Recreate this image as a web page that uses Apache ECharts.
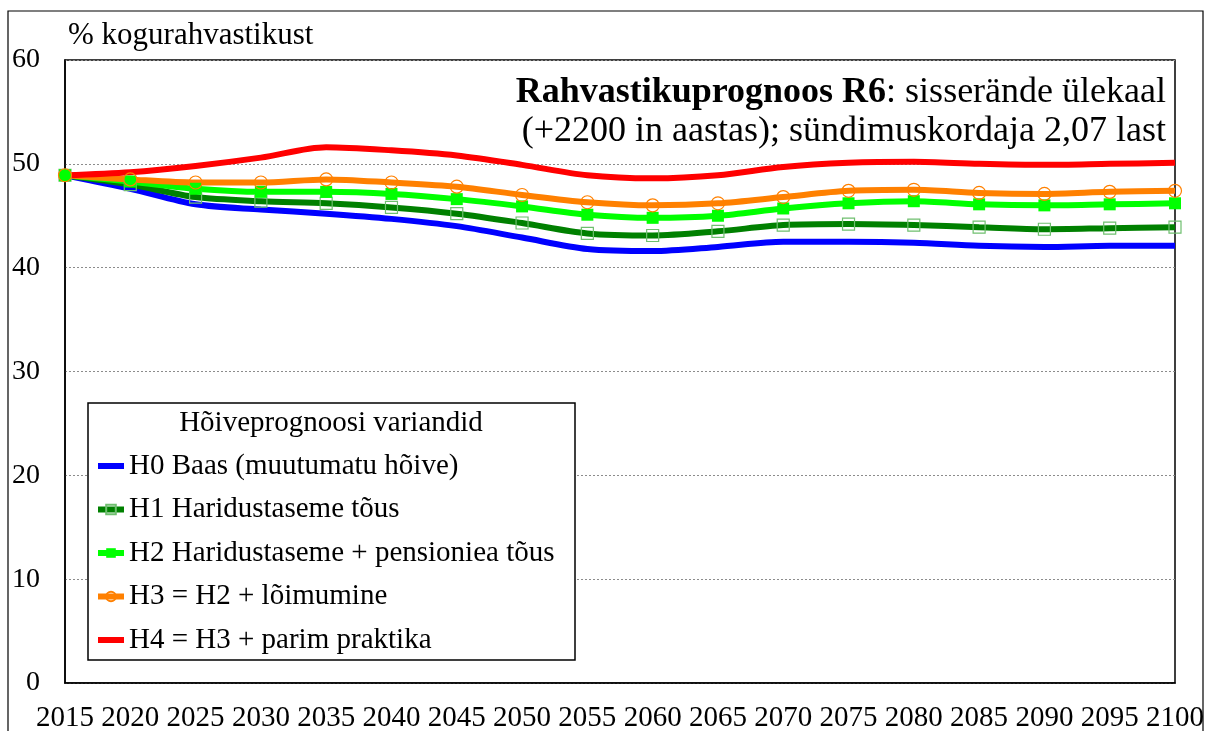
<!DOCTYPE html>
<html>
<head>
<meta charset="utf-8">
<script src="https://cdn.jsdelivr.net/npm/echarts@6/dist/echarts.min.js"></script>
<style>
  html, body { margin: 0; padding: 0; background: #fff; }
  #chart { width: 1206px; height: 731px; }
</style>
</head>
<body>
<div id="chart"></div>
<script>
const years = ['2015', '2020', '2025', '2030', '2035', '2040', '2045', '2050', '2055',
  '2060', '2065', '2070', '2075', '2080', '2085', '2090', '2095', '2100'];

const h0Base = [48.9, 47.6, 46.1, 45.6, 45.2, 44.7, 44.0, 42.9, 41.8, 41.6, 42.0, 42.5, 42.5, 42.4, 42.1, 42.0, 42.1, 42.1];
const h1Education = [48.9, 48.0, 46.8, 46.4, 46.2, 45.8, 45.2, 44.3, 43.3, 43.1, 43.5, 44.1, 44.2, 44.1, 43.9, 43.7, 43.8, 43.9];
const h2Pension = [48.9, 48.3, 47.6, 47.3, 47.3, 47.1, 46.6, 45.9, 45.1, 44.8, 45.0, 45.7, 46.2, 46.4, 46.1, 46.0, 46.1, 46.2];
const h3Integration = [48.9, 48.5, 48.2, 48.2, 48.5, 48.2, 47.8, 47.0, 46.3, 46.0, 46.2, 46.8, 47.4, 47.5, 47.2, 47.1, 47.3, 47.4];
const h4BestPractice = [48.9, 49.2, 49.8, 50.6, 51.6, 51.3, 50.8, 49.9, 48.9, 48.6, 48.9, 49.7, 50.1, 50.2, 50.0, 49.9, 50.0, 50.1];

const seriesNames = [
  'H0 Baas (muutumatu hõive)',
  'H1 Haridustaseme tõus',
  'H2 Haridustaseme + pensioniea tõus',
  'H3 = H2 + lõimumine',
  'H4 = H3 + parim praktika'
];

const font = '"Liberation Serif", "Times New Roman", serif';
const smoothness = 0.3;
// plain thick bar for legend entries without markers
const barIcon = 'path://M0,0H26V6H0Z';

const chart = echarts.init(document.getElementById('chart'), null, { renderer: 'canvas' });

const option = {
  animation: false,
  backgroundColor: '#fff',
  textStyle: { fontFamily: font, color: '#000' },
  grid: {
    left: 65,
    right: 31,
    top: 60,
    bottom: 48,
    outerBoundsMode: 'none',
    show: true,
    borderColor: '#000',
    borderWidth: 1.5
  },
  xAxis: {
    type: 'category',
    boundaryGap: false,
    data: years,
    axisLine: { lineStyle: { color: '#000', width: 1.5 } },
    axisTick: { show: false },
    axisLabel: {
      interval: 0,
      margin: 21,
      fontSize: 29,
      fontFamily: font,
      color: '#000'
    },
    splitLine: { show: false }
  },
  yAxis: {
    type: 'value',
    min: 0,
    max: 60,
    interval: 10,
    axisLine: { show: true, lineStyle: { color: '#000', width: 1.5 } },
    axisTick: { show: false },
    axisLabel: {
      margin: 25,
      fontSize: 28,
      fontFamily: font,
      color: '#000'
    },
    splitLine: {
      lineStyle: { color: '#8c8c8c', type: [2, 2], width: 1 }
    }
  },
  legend: {
    orient: 'vertical',
    left: 95,
    top: 451,
    padding: 0,
    z: 10,
    itemWidth: 26,
    itemHeight: 12,
    itemGap: 13.5,
    lineStyle: { width: 6 },
    textStyle: {
      fontSize: 29,
      lineHeight: 30,
      fontFamily: font,
      color: '#000'
    },
    data: [
      { name: seriesNames[0], icon: barIcon },
      { name: seriesNames[1] },
      { name: seriesNames[2] },
      { name: seriesNames[3] },
      { name: seriesNames[4], icon: barIcon }
    ]
  },
  graphic: [
    {
      type: 'rect',
      z: -1,
      silent: true,
      shape: { x: 8, y: 11, width: 1195, height: 740 },
      style: { fill: 'none', stroke: '#000', lineWidth: 1.2 }
    },
    {
      type: 'rect',
      z: 5,
      silent: true,
      shape: { x: 88, y: 403, width: 487, height: 257 },
      style: { fill: '#fff', stroke: '#000', lineWidth: 1.5 }
    },
    {
      type: 'text',
      z: 10,
      silent: true,
      style: {
        text: 'Hõiveprognoosi variandid',
        x: 331,
        y: 423,
        align: 'center',
        verticalAlign: 'middle',
        font: '29px ' + font,
        fill: '#000'
      }
    },
    {
      type: 'text',
      z: 10,
      silent: true,
      style: {
        text: '% kogurahvastikust',
        x: 68,
        y: 36,
        verticalAlign: 'middle',
        font: '31px ' + font,
        fill: '#000'
      }
    },
    {
      type: 'text',
      z: 10,
      silent: true,
      style: {
        text: '{b|Rahvastikuprognoos R6}: sisserände ülekaal\n(+2200 in aastas); sündimuskordaja 2,07 last',
        x: 1166,
        y: 73,
        align: 'right',
        verticalAlign: 'top',
        font: '36px ' + font,
        lineHeight: 39,
        fill: '#000',
        rich: {
          b: { fontWeight: 'bold', fontSize: 36, fontFamily: font, lineHeight: 39 }
        }
      }
    }
  ],
  series: [
    {
      name: seriesNames[0],
      type: 'line',
      smooth: smoothness,
      symbol: 'none',
      lineStyle: { color: '#0000ff', width: 6 },
      itemStyle: { color: '#0000ff' },
      data: h0Base
    },
    {
      name: seriesNames[1],
      type: 'line',
      smooth: smoothness,
      symbol: 'rect',
      symbolSize: 12,
      lineStyle: { color: '#008000', width: 6 },
      itemStyle: { color: 'rgba(255,255,255,0)', borderColor: '#6fbf6f', borderWidth: 1.2 },
      data: h1Education
    },
    {
      name: seriesNames[2],
      type: 'line',
      smooth: smoothness,
      symbol: 'rect',
      symbolSize: 12,
      lineStyle: { color: '#00ff00', width: 6 },
      itemStyle: { color: '#00ff00', borderColor: '#00ff00', borderWidth: 0 },
      data: h2Pension
    },
    {
      name: seriesNames[3],
      type: 'line',
      smooth: smoothness,
      symbol: 'circle',
      symbolSize: 13,
      lineStyle: { color: '#ff8000', width: 6 },
      itemStyle: { color: 'rgba(255,255,255,0)', borderColor: '#ff8000', borderWidth: 1.2 },
      data: h3Integration
    },
    {
      name: seriesNames[4],
      type: 'line',
      smooth: smoothness,
      symbol: 'none',
      lineStyle: { color: '#ff0000', width: 6 },
      itemStyle: { color: '#ff0000' },
      data: h4BestPractice
    }
  ]
};

chart.setOption(option);
</script>
</body>
</html>
